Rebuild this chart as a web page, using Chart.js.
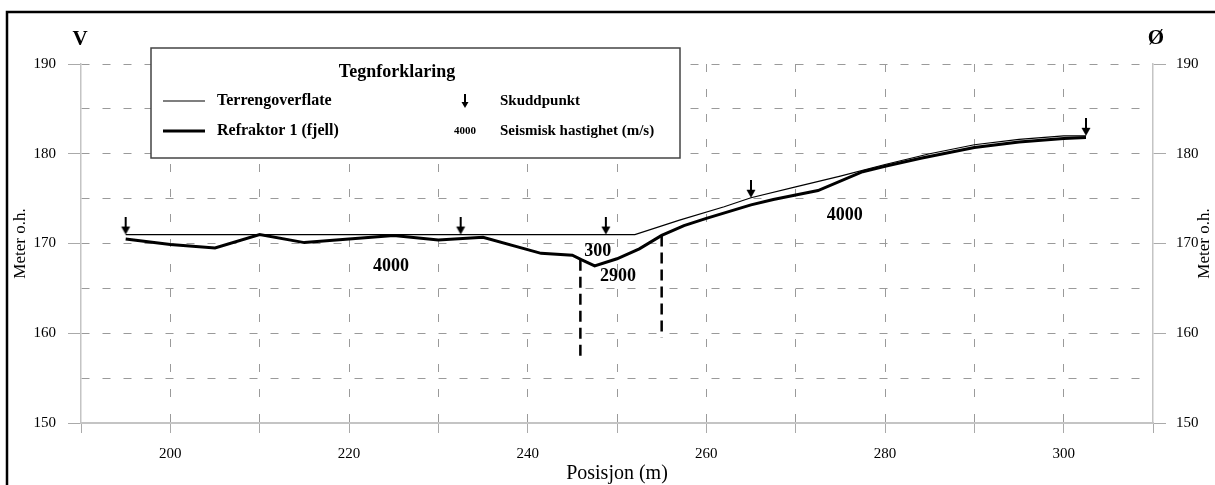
<!DOCTYPE html>
<html>
<head>
<meta charset="utf-8">
<title>Seismisk profil</title>
<script src="https://cdn.jsdelivr.net/npm/chart.js@4/dist/chart.umd.min.js"></script>
<style>
  html, body { margin: 0; padding: 0; background: #fff; }
  #wrap { width: 1215px; height: 485px; }
</style>
</head>
<body>
<div id="wrap"><canvas id="profil" width="1215" height="485"></canvas></div>
<script>
// Seismisk refraksjonsprofil: terreng, refraktor og skuddpunkt

const terrengX = [195, 252, 257, 262, 265, 270, 275, 280, 285, 290, 295, 300, 302.5];
const terrengY = [171, 171, 172.6, 174.1, 175.1, 176.3, 177.5, 178.8, 180.0, 181.0, 181.6, 182.0, 182.0];

const refraktorX = [195, 200, 205, 210, 215, 220, 225, 230, 235, 241.5, 245, 246, 247.5, 250,
  252.5, 255, 257.5, 260, 265, 267.5, 270, 272.5, 277.5, 280, 284, 290, 295, 300, 302.5];
const refraktorY = [170.5, 169.9, 169.5, 171.0, 170.1, 170.5, 170.9, 170.4, 170.7, 168.9, 168.7, 168.2, 167.5, 168.3,
  169.4, 170.9, 172.0, 172.8, 174.3, 174.9, 175.4, 175.9, 178.0, 178.6, 179.5, 180.7, 181.3, 181.7, 181.8];

// skuddpunkt (pil ned mot terrenget)
const skuddX = [195, 232.5, 248.75, 265, 302.5];
const skuddY = [171, 171, 171, 175.1, 182.0];

// grenser mellom hastighetssoner
const grense1X = [245.9, 245.9];
const grense1Y = [168.2, 157.2];
const grense2X = [255.0, 255.0];
const grense2Y = [170.9, 159.5];

// hastigheter (m/s) og plassering
const hastighetTekst = ['4000', '300', '2900', '4000'];
const hastighetX = [224.7, 247.85, 250.1, 275.5];
const hastighetY = [167.5, 169.1, 166.3, 173.1];

const xMin = 190, xMax = 310;
const yMin = 150, yMax = 190;

const serif = '"Liberation Serif", "Times New Roman", serif';
const gridFarge = '#9a9a9a';
const aksefarge = '#c4c4c4';

function punkter(xs, ys) {
  return xs.map((x, i) => ({ x, y: ys[i] }));
}

function lagPil(lengde, hode, bredde) {
  const c = document.createElement('canvas');
  c.width = 12;
  c.height = lengde * 2;
  const g = c.getContext('2d');
  g.strokeStyle = '#000';
  g.fillStyle = '#000';
  g.lineWidth = 2;
  g.beginPath();
  g.moveTo(6, 0);
  g.lineTo(6, lengde - hode + 1);
  g.stroke();
  g.beginPath();
  g.moveTo(6 - bredde / 2, lengde - hode);
  g.lineTo(6 + bredde / 2, lengde - hode);
  g.lineTo(6, lengde);
  g.closePath();
  g.fill();
  return c;
}

const pil = lagPil(18, 8, 9);
const legendPil = lagPil(14, 6, 7);

const tegnPlugin = {
  id: 'tegn',
  afterDraw(chart) {
    const ctx = chart.ctx;
    const xs = chart.scales.x;
    const ys = chart.scales.y;
    ctx.save();

    // ramme
    ctx.strokeStyle = '#000';
    ctx.lineWidth = 2.5;
    ctx.beginPath();
    ctx.moveTo(7, 485);
    ctx.lineTo(7, 12);
    ctx.lineTo(1215, 12);
    ctx.stroke();

    // V og Ø
    ctx.fillStyle = '#000';
    ctx.font = 'bold 21px ' + serif;
    ctx.textAlign = 'center';
    ctx.textBaseline = 'alphabetic';
    ctx.fillText('V', 80, 45);
    ctx.fillText('Ø', 1156, 44);

    // aksetittel høyre
    ctx.save();
    ctx.font = '17px ' + serif;
    ctx.textBaseline = 'middle';
    ctx.translate(1205, (chart.chartArea.top + chart.chartArea.bottom) / 2);
    ctx.rotate(-Math.PI / 2);
    ctx.fillText('Meter o.h.', 0, 0);
    ctx.restore();

    // hastighetstall
    ctx.font = 'bold 18px ' + serif;
    ctx.textBaseline = 'middle';
    hastighetTekst.forEach((t, i) => {
      ctx.fillText(t, xs.getPixelForValue(hastighetX[i]), ys.getPixelForValue(hastighetY[i]));
    });

    // tegnforklaring
    const bx = 151, by = 48, bw = 529, bh = 110;
    ctx.fillStyle = '#fff';
    ctx.fillRect(bx, by, bw, bh);
    ctx.strokeStyle = '#444';
    ctx.lineWidth = 1.5;
    ctx.strokeRect(bx, by, bw, bh);

    ctx.fillStyle = '#000';
    ctx.font = 'bold 18px ' + serif;
    ctx.textAlign = 'center';
    ctx.fillText('Tegnforklaring', 397, 72);

    const ds = chart.data.datasets;
    const rader = [101, 131];
    [ds[0], ds[1]].forEach((d, i) => {
      ctx.strokeStyle = d.borderColor;
      ctx.lineWidth = d.borderWidth;
      ctx.beginPath();
      ctx.moveTo(163, rader[i]);
      ctx.lineTo(205, rader[i]);
      ctx.stroke();
    });

    ctx.textAlign = 'left';
    ctx.font = 'bold 16px ' + serif;
    ctx.fillText(ds[0].label, 217, rader[0]);
    ctx.fillText(ds[1].label, 217, rader[1]);
    ctx.font = 'bold 15px ' + serif;
    ctx.fillText('Skuddpunkt', 500, rader[0]);
    ctx.fillText('Seismisk hastighet (m/s)', 500, rader[1]);

    ctx.drawImage(legendPil, 465 - legendPil.width / 2, rader[0] + 7 - legendPil.height / 2);
    ctx.font = 'bold 11px ' + serif;
    ctx.textAlign = 'center';
    ctx.fillText('4000', 465, rader[1]);

    ctx.restore();
  }
};

Chart.defaults.font.family = serif;
Chart.defaults.color = '#000';

new Chart(document.getElementById('profil'), {
  type: 'scatter',
  data: {
    datasets: [
      {
        label: 'Terrengoverflate',
        data: punkter(terrengX, terrengY),
        showLine: true,
        borderColor: '#000',
        borderWidth: 1.2,
        pointRadius: 0,
        tension: 0
      },
      {
        label: 'Refraktor 1 (fjell)',
        data: punkter(refraktorX, refraktorY),
        showLine: true,
        borderColor: '#000',
        borderWidth: 3,
        pointRadius: 0,
        tension: 0
      },
      {
        label: 'grense1',
        data: punkter(grense1X, grense1Y),
        showLine: true,
        borderColor: '#000',
        borderWidth: 2.5,
        borderDash: [11, 6],
        pointRadius: 0
      },
      {
        label: 'grense2',
        data: punkter(grense2X, grense2Y),
        showLine: true,
        borderColor: '#000',
        borderWidth: 2.5,
        borderDash: [11, 6],
        pointRadius: 0
      },
      {
        label: 'Skuddpunkt',
        data: punkter(skuddX, skuddY),
        showLine: false,
        pointStyle: pil,
        pointRadius: 6
      }
    ]
  },
  options: {
    responsive: false,
    animation: false,
    devicePixelRatio: 1,
    layout: { padding: { top: 64, left: 0, right: 0, bottom: 0 } },
    plugins: {
      legend: { display: false },
      tooltip: { enabled: false }
    },
    scales: {
      x: {
        type: 'linear',
        min: xMin,
        max: xMax,
        afterFit: s => { s.height = 62; },
        ticks: {
          stepSize: 10,
          autoSkip: false,
          maxRotation: 0,
          padding: 12,
          color: '#000',
          font: { size: 15 },
          callback: v => (v % 20 === 0 && v >= 200 && v <= 300) ? v : ''
        },
        grid: {
          color: c => (c.tick && (c.tick.value === xMin || c.tick.value === xMax)) ? 'transparent' : gridFarge,
          tickColor: '#aaa',
          tickLength: 10,
          lineWidth: 1
        },
        border: { color: aksefarge, width: 2, dash: [8, 17] },
        title: {
          display: true,
          text: 'Posisjon (m)',
          color: '#000',
          font: { size: 20 },
          padding: { top: 0, bottom: -1 }
        }
      },
      y: {
        position: 'left',
        min: yMin,
        max: yMax,
        afterFit: s => { s.width = 81; },
        ticks: {
          stepSize: 5,
          padding: 12,
          color: '#000',
          font: { size: 15 },
          callback: v => v % 10 === 0 ? v : ''
        },
        grid: {
          color: c => (c.tick && c.tick.value === yMin) ? 'transparent' : gridFarge,
          tickColor: c => (c.tick && c.tick.value % 10 === 0) ? '#aaa' : 'transparent',
          tickLength: 13,
          lineWidth: 1
        },
        border: { color: aksefarge, width: 1.5, dash: [8, 13] },
        title: {
          display: true,
          text: 'Meter o.h.',
          color: '#000',
          font: { size: 17 },
          padding: { top: 10, bottom: 0 }
        }
      },
      y2: {
        position: 'right',
        min: yMin,
        max: yMax,
        afterFit: s => { s.width = 62; },
        ticks: {
          stepSize: 5,
          padding: 10,
          color: '#000',
          font: { size: 15 },
          callback: v => v % 10 === 0 ? v : ''
        },
        grid: {
          drawOnChartArea: false,
          tickColor: c => (c.tick && c.tick.value % 10 === 0) ? '#aaa' : 'transparent',
          tickLength: 13
        },
        border: { color: aksefarge, width: 1.5 }
      }
    }
  },
  plugins: [tegnPlugin]
});
</script>
</body>
</html>
